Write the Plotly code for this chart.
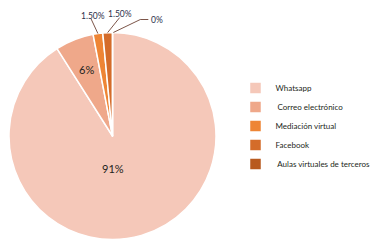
import math
import plotly.graph_objects as go

# canales de mediación (porcentajes)
labels = ['Whatsapp', '\u00a0Correo electrónico', 'Mediación virtual', 'Facebook',
          '\u00a0Aulas virtuales de terceros']
values = [91, 6, 1.5, 1.5, 0]
text_labels = ['91%', '6%', '1.50%', '1.50%', '0%']
colors = ['#F5C8B9', '#EFA88A', '#EE8535', '#D46C2A', '#B85A1F']

W, H = 383, 246
# la página tiene 8px de margen: el dominio se desplaza para compensar
dom_x = [1 / W, 208 / W]
dom_y = [14.5 / H, 221.5 / H]

fig = go.Figure()
fig.add_trace(go.Pie(
    labels=labels,
    values=values,
    textinfo='none',
    sort=False,
    direction='clockwise',
    rotation=0,
    marker=dict(colors=colors, line=dict(color='white', width=1.5)),
    domain=dict(x=dom_x, y=dom_y),
    hoverinfo='label+percent',
))

cx = (dom_x[0] + dom_x[1]) / 2 * W
cy = H - (dom_y[0] + dom_y[1]) / 2 * H
r = min((dom_x[1] - dom_x[0]) * W, (dom_y[1] - dom_y[0]) * H) / 2
total = sum(values)

# etiquetas internas
fig.add_annotation(x=cx / W, y=1 - (cy + 0.31 * r) / H, xref='paper', yref='paper',
                   text=text_labels[0], showarrow=False,
                   xanchor='center', yanchor='middle',
                   font=dict(size=11, color='#231F20'))
a6 = (values[0] + values[1] / 2) / total * 2 * math.pi
fig.add_annotation(x=(cx + 0.69 * r * math.sin(a6)) / W,
                   y=1 - (cy - 0.69 * r * math.cos(a6)) / H,
                   xref='paper', yref='paper', text=text_labels[1], showarrow=False,
                   xanchor='center', yanchor='middle',
                   font=dict(size=11, color='#231F20'))

# etiquetas externas con líneas guía para las porciones pequeñas
guides = {2: (-7, -15, -5, -11), 3: (12, -15, 12, -12), 4: (27, -13, 0, 0)}
cum = 0
for i, v in enumerate(values):
    a0 = cum / total * 2 * math.pi
    cum += v
    if i not in guides:
        continue
    a = (a0 + cum / total * 2 * math.pi) / 2
    if v == 0:
        a = a0 + 0.008
    px = cx + r * math.sin(a)
    py = cy - r * math.cos(a)
    dx, dy, tdx, tdy = guides[i]
    ex, ey = px + dx, py + dy
    path = f'M {px/W} {1-py/H} L {ex/W} {1-ey/H}'
    if i == 4:
        path += f' L {(ex+8)/W} {1-ey/H}'
        tx, ty, xa, ya = ex + 9, ey, 'left', 'middle'
    else:
        tx, ty, xa, ya = px + tdx, py + tdy, 'center', 'bottom'
    fig.add_shape(type='path', path=path, xref='paper', yref='paper',
                  line=dict(color='#5A2A1A', width=0.8))
    fig.add_annotation(x=tx / W, y=1 - ty / H, xref='paper', yref='paper',
                       text=text_labels[i], showarrow=False, xanchor=xa, yanchor=ya,
                       font=dict(size=8.5, color='#2B2F4A'))

fig.update_layout(
    width=W, height=H,
    margin=dict(l=0, r=0, t=0, b=0),
    paper_bgcolor='white',
    font=dict(family='Lato, Open Sans, sans-serif', size=9, color='#231F20'),
    legend=dict(x=0.594, y=0.734, xanchor='left', yanchor='top',
                font=dict(size=8), tracegroupgap=0, itemwidth=30,
                bgcolor='rgba(0,0,0,0)'),
)

fig.write_html('out.html')
